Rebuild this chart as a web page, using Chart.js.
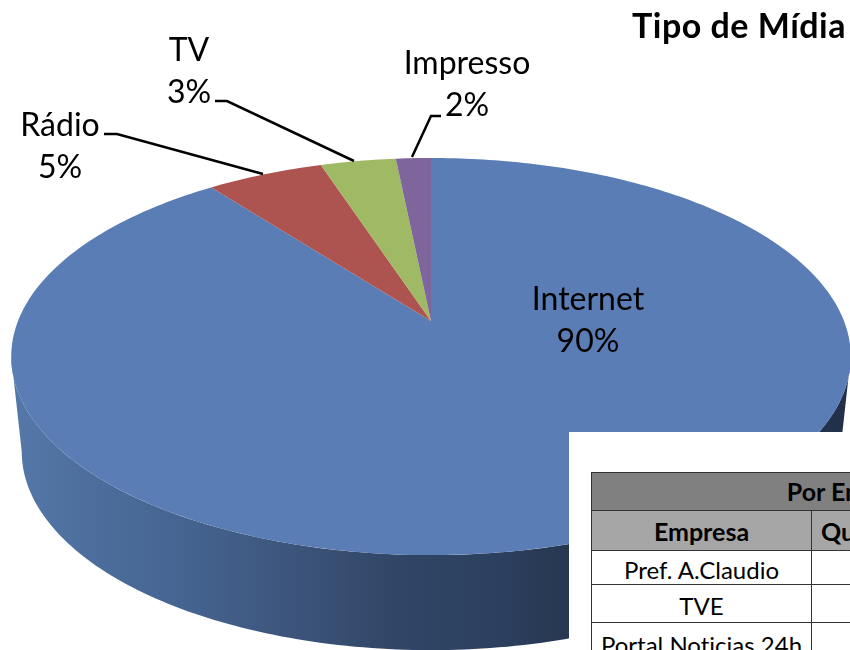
<!DOCTYPE html>
<html lang="pt">
<head>
<meta charset="utf-8">
<title>Tipo de Mídia</title>
<script src="https://cdn.jsdelivr.net/npm/chart.js@4"></script>
<style>
    html, body { margin: 0; padding: 0; background: #fff; }
    #page { position: relative; width: 850px; height: 650px; overflow: hidden; font-family: Lato, sans-serif; font-variant-ligatures: none; }
    #midia { position: absolute; left: 0; top: 0; }
    #sheet { position: absolute; left: 569px; top: 432px; width: 281px; height: 218px; background: #fff; overflow: hidden; }
    #sheet table { position: absolute; left: 22px; top: 40px; width: 530px; table-layout: fixed; border-collapse: collapse; font-size: 24px; color: #000; text-align: center; }
    #sheet td, #sheet th { border: 1.5px solid #333; padding: 0; white-space: nowrap; overflow: hidden; }
    #sheet th { font-size: 25px; }
    #sheet .top th { background: #808080; height: 36.5px; }
    #sheet .sub th { background: #a6a6a6; height: 37px; padding-top: 2px; }
    #sheet .sub th.left { text-align: left; padding-left: 9px; }
    #sheet td { height: 32.5px; padding-top: 4px; }
    #sheet tr.first td { height: 29.5px; }
    #sheet tr.last td { height: 40px; vertical-align: top; padding-top: 7px; }
</style>
</head>
<body>
<div id="page">
    <canvas id="midia" width="850" height="650"></canvas>
    <div id="sheet"></div>
</div>
<script>
const categories = ['Internet', 'Rádio', 'TV', 'Impresso'];
const values = [89.6, 5.35, 3.45, 1.6];
const sliceColors = ['#5a7db5', '#ae5450', '#a0b964', '#7e659c'];

const tableTitle = 'Por Empresa';
const tableHeads = ['Empresa', 'Quantidade', ''];
const tableRows = ['Pref. A.Claudio', 'TVE', 'Portal Noticias 24h'];

// where each label sits and where its leader line runs
const labelSpots = [
    {x: 588, y: 300, line: null},
    {x: 60, y: 126, line: [[104, 134], [117, 134], [263, 174]]},
    {x: 189, y: 51, line: [[215, 101], [227, 101], [354, 161]]},
    {x: 467, y: 64, line: [[441, 116], [431, 116], [412, 157]]}
];

// perspective of the tilted disc
const tilt = {rx: 413, ry: 192.2, k: -0.179, depth: 95, shrink: 0.975};

function project(el, angle) {
    const c = Math.cos(angle), s = Math.sin(angle);
    const w = 1 + tilt.k * s;
    return {x: el.x + tilt.rx * c / w, y: el.y + tilt.ry * s / w};
}

function drawWall(ctx, el) {
    const steps = 160;
    // the sides run between the widest points of the top and bottom rims
    const from = Math.asin(-tilt.k), to = Math.PI - from;
    const grad = ctx.createLinearGradient(12, 0, 850, 0);
    grad.addColorStop(0, '#5478a9');
    grad.addColorStop(0.105, '#4c6d9b');
    grad.addColorStop(0.224, '#44628e');
    grad.addColorStop(0.344, '#3c5379');
    grad.addColorStop(0.463, '#304666');
    grad.addColorStop(0.582, '#2c3f5e');
    grad.addColorStop(0.666, '#273750');
    grad.addColorStop(1, '#22304a');
    ctx.beginPath();
    for (let i = 0; i <= steps; i++) {
        const p = project(el, from + (to - from) * i / steps);
        ctx.lineTo(p.x, p.y);
    }
    for (let i = steps; i >= 0; i--) {
        const p = project(el, from + (to - from) * i / steps);
        ctx.lineTo(el.x + (p.x - el.x) * tilt.shrink, p.y + tilt.depth);
    }
    ctx.closePath();
    ctx.fillStyle = grad;
    ctx.fill();
}

function drawSlice(ctx, el, color) {
    const steps = Math.ceil((el.endAngle - el.startAngle) * 60);
    ctx.beginPath();
    ctx.moveTo(el.x, el.y);
    for (let i = 0; i <= steps; i++) {
        const p = project(el, el.startAngle + (el.endAngle - el.startAngle) * i / steps);
        ctx.lineTo(p.x, p.y);
    }
    ctx.closePath();
    ctx.fillStyle = color;
    ctx.fill();
}

function drawLabels(ctx) {
    ctx.fillStyle = '#000';
    ctx.textAlign = 'center';
    ctx.textBaseline = 'middle';
    ctx.font = '32px Lato, sans-serif';
    const total = values.reduce((a, b) => a + b, 0);
    categories.forEach((name, i) => {
        const spot = labelSpots[i];
        ctx.fillText(name, spot.x, spot.y);
        ctx.fillText(Math.round(values[i] / total * 100) + '%', spot.x, spot.y + 42);
        if (!spot.line) return;
        ctx.beginPath();
        spot.line.forEach(pt => ctx.lineTo(pt[0], pt[1]));
        ctx.lineWidth = 2.5;
        ctx.strokeStyle = '#000';
        ctx.stroke();
    });
    ctx.font = 'bold 34px Lato, sans-serif';
    ctx.letterSpacing = '0.5px';
    ctx.textAlign = 'right';
    ctx.fillText('Tipo de Mídia', 846, 27);
}

// Chart.js can only draw a round pie, so the arcs it lays out are painted here in perspective
const tiltedPie = {
    id: 'tiltedPie',
    beforeDatasetsDraw(chart) {
        const ctx = chart.ctx;
        const arcs = chart.getDatasetMeta(0).data;
        ctx.save();
        drawWall(ctx, arcs[0]);
        arcs.forEach((el, i) => drawSlice(ctx, el, sliceColors[i]));
        drawLabels(ctx);
        ctx.restore();
        return false;
    }
};

new Chart(document.getElementById('midia'), {
    type: 'pie',
    data: {
        labels: categories,
        datasets: [{data: values, backgroundColor: sliceColors, borderWidth: 0}]
    },
    options: {
        responsive: false,
        animation: false,
        layout: {padding: {left: 12, bottom: 8}},
        plugins: {legend: {display: false}, tooltip: {enabled: false}}
    },
    plugins: [tiltedPie]
});

let rowsHtml = '<tr class="top"><th colspan="3">' + tableTitle + '</th></tr>';
rowsHtml += '<tr class="sub">' + tableHeads.map((h, i) => '<th' + (i === 1 ? ' class="left"' : '') + '>' + h + '</th>').join('') + '</tr>';
tableRows.forEach((r, i) => {
    const cls = i === 0 ? ' class="first"' : (i === tableRows.length - 1 ? ' class="last"' : '');
    rowsHtml += '<tr' + cls + '><td>' + r + '</td><td></td><td></td></tr>';
});
document.getElementById('sheet').innerHTML =
    '<table><colgroup><col style="width:220px"><col style="width:130px"><col style="width:180px"></colgroup>' + rowsHtml + '</table>';
</script>
</body>
</html>
